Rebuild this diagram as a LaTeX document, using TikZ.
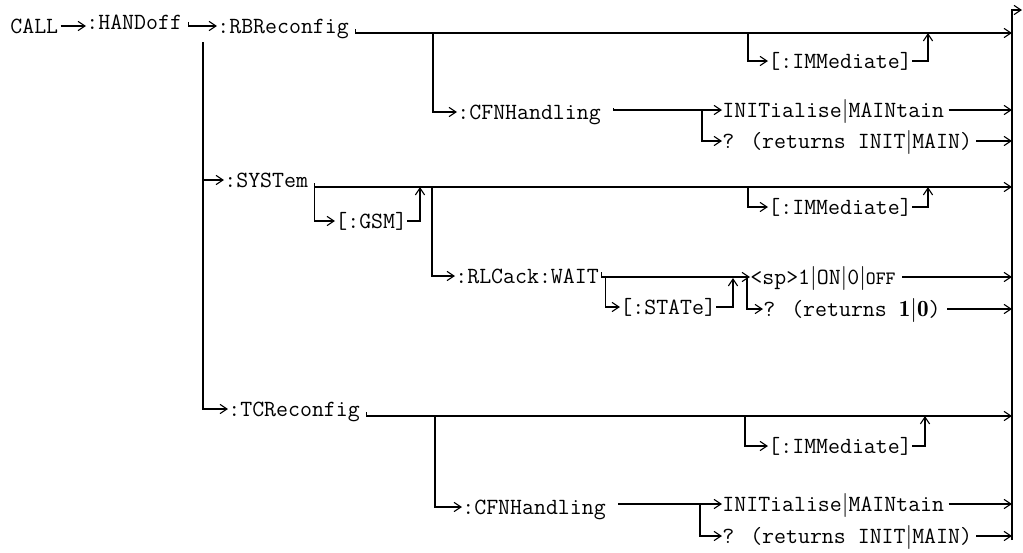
\documentclass[tikz,border=0pt]{standalone}
\usepackage{fontspec}
\usepackage{tikz}
\usetikzlibrary{arrows.meta,calc}
\newcommand\railtext{\ttfamily\fontsize{11.6pt}{13pt}\selectfont}
\tikzset{
  >={Straight Barb[length=3.5pt,width=4.6pt]},
  kw/.style={anchor=base west,inner sep=0pt,text height=7pt,text depth=0pt,font=\railtext},
  rail/.style={line width=0.55pt,draw=black},
  flow/.style={rail,->},
}

\begin{document}
\begin{tikzpicture}[x=0.5pt,y=-0.5pt]
    \useasboundingbox (0,0) rectangle (1023,552);
    % keywords
    \node[kw] (call) at (10,33) {CALL};
    \node[kw] (hand) at (86,29) {:HANDoff};
    \node[kw] (rb) at (217,33) {:RBReconfig};
    \node[kw] (imma) at (768,68) {[:IMMediate]};
    \node[kw] (cfna) at (457,119) {:CFNHandling};
    \node[kw] (inita) at (722,117) {INITialise$|$MAINtain};
    \node[kw] (reta) at (722,148) {? (returns INIT$|$MAIN)};
    \node[kw] (sys) at (224,187) {:SYSTem};
    \node[kw] (gsm) at (335,228) {[:GSM]};
    \node[kw] (immb) at (768,214) {[:IMMediate]};
    \node[kw] (rlc) at (455,283) {:RLCack:WAIT};
    \node[kw] (sp) at (750,284) {<sp>1$|$ON$|$0$|${\fontsize{9.4pt}{10pt}\selectfont OFF}};
    \node[kw] (stat) at (620,314) {[:STATe]};
    \node[kw] (retb) at (763,316) {? (returns $\mathbf{1}|\mathbf{0}$)};
    \node[kw] (tc) at (228,416) {:TCReconfig};
    \node[kw] (immc) at (768,453) {[:IMMediate]};
    \node[kw] (cfnc) at (462,514) {:CFNHandling};
    \node[kw] (initc) at (722,511) {INITialise$|$MAINtain};
    \node[kw] (retc) at (722,543) {? (returns INIT$|$MAIN)};
    % rail junctions
    \coordinate (lbus) at (203,42);
    \coordinate (rtop) at (1012,10);
    \coordinate (rbot) at (1012,540);
    \coordinate (exit) at (1022,10);
    \coordinate (ra) at (433,33);
    \coordinate (ia) at (748,33);
    \coordinate (ja) at (928,33);
    \coordinate (ga) at (420,187);
    \coordinate (sb) at (432,187);
    \coordinate (ib) at (748,187);
    \coordinate (jb) at (928,187);
    \coordinate (ta) at (733,278);
    \coordinate (tb) at (435,416);
    \coordinate (ic) at (745,416);
    \coordinate (jc) at (925,416);
    % left side
    \draw[flow] ([xshift=1pt]call.east) -- (call.east -| hand.west);
    \draw[flow] ([xshift=3pt]hand.east) |- (rb.west);
    \draw[flow] (lbus) |- (tc.west);
    \draw[flow] (lbus |- sys.west) -- (sys.west);
    \draw[flow] (rbot) |- (exit);
    % :RBReconfig
    \draw[flow] ([xshift=3pt,yshift=2pt]rb.base east) |- (ra) -- (ra -| rtop);
    \draw[flow] (ra) |- (cfna.west);
    \draw[flow] (ia) |- (imma.west);
    \draw[flow] (imma.east) -| (ja);
    \draw[flow] ([xshift=6pt,yshift=2pt]cfna.east) |- (inita.west);
    \draw[flow] ([xshift=-10pt]inita.west) |- (reta.west);
    \draw[flow] ([xshift=2pt]inita.east) -- (inita.east -| rtop);
    \draw[flow] ([xshift=2pt]reta.east) -- (reta.east -| rtop);
    % :SYSTem
    \draw[flow] ([xshift=3pt,yshift=2pt]sys.base east) -- ([xshift=3pt]sys.base east) -- (sys.base east -| rtop);
    \draw[flow] ([xshift=3pt]sys.base east) |- (gsm.west);
    \draw[flow] (gsm.east) -| (ga);
    \draw[flow] (sb) |- (rlc.west);
    \draw[flow] (ib) |- (immb.west);
    \draw[flow] (immb.east) -| (jb);
    \draw[flow] ([xshift=1pt,yshift=2pt]rlc.east) |- (sp.west);
    \draw[flow] ([xshift=3pt]rlc.east |- sp.west) |- (stat.west);
    \draw[flow] (stat.east) -| (ta);
    \draw[flow] ([xshift=-1.5pt]sp.west) |- (retb.west);
    \draw[flow] ([xshift=3pt]sp.east) -- (sp.east -| rtop);
    \draw[flow] ([xshift=3pt]retb.east) -- (retb.east -| rtop);
    % :TCReconfig
    \draw[flow] ([xshift=3pt,yshift=2pt]tc.base east) -- ([xshift=3pt]tc.base east) -- (tc.base east -| rtop);
    \draw[flow] (tb) |- (cfnc.west);
    \draw[flow] (ic) |- (immc.west);
    \draw[flow] (immc.east) -| (jc);
    \draw[flow] ([xshift=6pt,yshift=2pt]cfnc.east) |- (initc.west);
    \draw[flow] ([xshift=-11pt]initc.west) |- (retc.west);
    \draw[flow] ([xshift=2pt]initc.east) -- (initc.east -| rtop);
    \draw[flow] ([xshift=2pt]retc.east) -- (retc.east -| rtop);
  \end{tikzpicture}
\end{document}
